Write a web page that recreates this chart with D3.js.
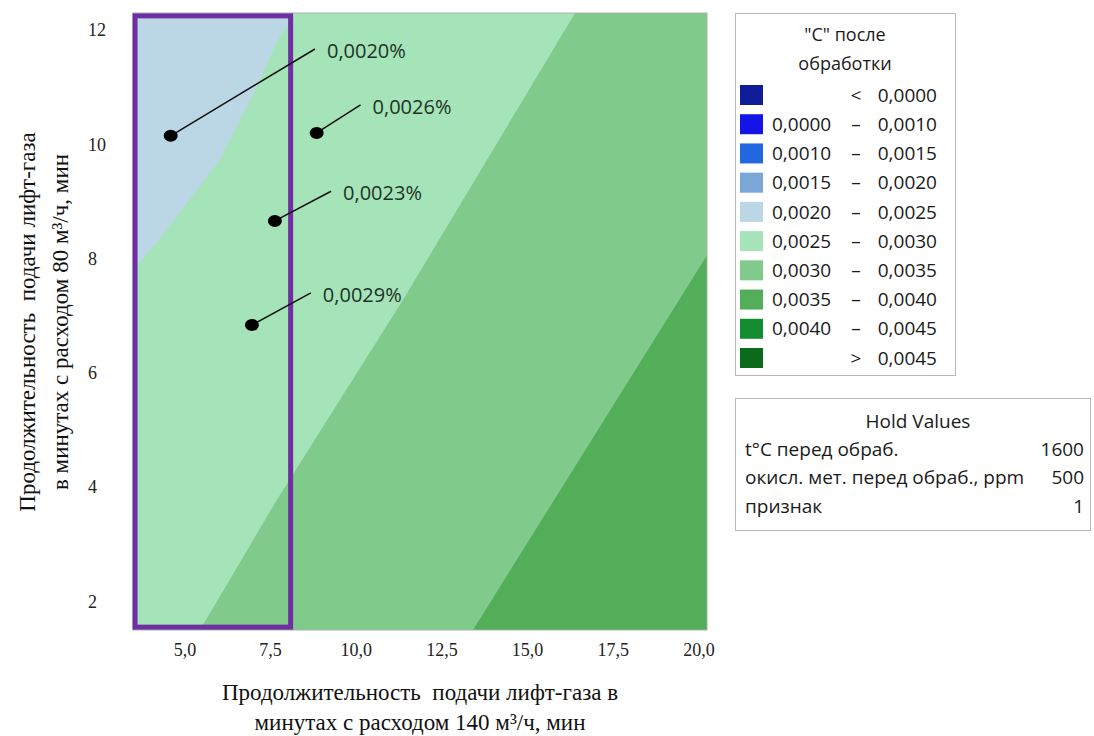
<!DOCTYPE html>
<html>
<head>
<meta charset="utf-8">
<script src="https://cdn.jsdelivr.net/npm/d3@7"></script>
<style>
  body { margin: 0; background: #fff; }
  .tick text { font-family: "Liberation Serif", serif; font-size: 18px; fill: #222; }
</style>
</head>
<body>
<div id="chart"></div>
<script>
// axis ranges and ticks
const xDomain = [3.5, 20.25];
const yDomain = [1.5, 12.3];
const xTicks = [5, 7.5, 10, 12.5, 15, 17.5, 20];
const yTicks = [2, 4, 6, 8, 10, 12];

// contour boundaries (data units)
const level0025X = [3.5, 4.35, 5.3, 6.0, 6.91, 7.73, 8.25];
const level0025Y = [7.80, 8.40, 9.15, 9.70, 10.75, 11.83, 12.3];
const level0030X = [5.455, 7.70, 11.38, 16.40];
const level0030Y = [1.5, 3.78, 7.28, 12.3];
const level0035X = [13.42, 20.25];
const level0035Y = [1.5, 8.06];

// band colours
const bandColors = ["#bbd7e5", "#a5e3b9", "#80cb8b", "#52ae58"];

// legend
const legendLeft = ["", "0,0000", "0,0010", "0,0015", "0,0020", "0,0025", "0,0030", "0,0035", "0,0040", ""];
const legendSep = ["<", "–", "–", "–", "–", "–", "–", "–", "–", ">"];
const legendRight = ["0,0000", "0,0010", "0,0015", "0,0020", "0,0025", "0,0030", "0,0035", "0,0040", "0,0045", "0,0045"];
const legendColors = ["#0f1c98", "#1414e6", "#2266e0", "#7ba6d8", "#bbd7e5", "#a5e3b9", "#80cb8b", "#52ae58", "#148c30", "#0b6a1c"];

// hold values
const holdNames = ["t°C перед обраб.", "окисл. мет. перед обраб., ppm", "признак"];
const holdValues = ["1600", "500", "1"];

// annotated points
const pointX = [4.60, 8.86, 7.64, 6.97];
const pointY = [10.15, 10.20, 8.66, 6.84];
const leaderX = [8.81, 10.14, 9.28, 8.69];
const leaderY = [11.67, 10.69, 9.18, 7.40];
const pointLabels = ["0,0020%", "0,0026%", "0,0023%", "0,0029%"];

// selected region
const boxX = [3.56, 8.10];
const boxY = [1.55, 12.25];

const width = 1094, height = 736;
const plot = { left: 133, right: 707, top: 13, bottom: 630 };

const svg = d3.select("#chart").append("svg")
    .attr("width", width)
    .attr("height", height);

const x = d3.scaleLinear().domain(xDomain).range([plot.left, plot.right]);
const y = d3.scaleLinear().domain(yDomain).range([plot.bottom, plot.top]);

const line = d3.line()
    .x(d => x(d[0]))
    .y(d => y(d[1]));

function pts(xs, ys) {
    return xs.map((v, i) => [v, ys[i]]);
}

// contour bands
svg.append("rect")
    .attr("x", x(xDomain[0])).attr("y", y(yDomain[1]))
    .attr("width", x(xDomain[1]) - x(xDomain[0]))
    .attr("height", y(yDomain[0]) - y(yDomain[1]))
    .attr("fill", bandColors[0]);

const bands = [
    pts(level0025X, level0025Y).concat([[xDomain[1], yDomain[1]], [xDomain[1], yDomain[0]], [xDomain[0], yDomain[0]]]),
    pts(level0030X, level0030Y).concat([[xDomain[1], yDomain[1]], [xDomain[1], yDomain[0]]]),
    pts(level0035X, level0035Y).concat([[xDomain[1], yDomain[0]]])
];

svg.append("g")
    .selectAll("path")
    .data(bands)
    .join("path")
    .attr("d", d => line(d) + "Z")
    .attr("fill", (d, i) => bandColors[i + 1]);

// thin frame
svg.append("rect")
    .attr("x", plot.left).attr("y", plot.top)
    .attr("width", plot.right - plot.left)
    .attr("height", plot.bottom - plot.top)
    .attr("fill", "none")
    .attr("stroke", "#a9b3ab")
    .attr("stroke-width", 1);

// axes
const fmtX = d => d3.format(".1f")(d).replace(".", ",");
const xAxis = d3.axisBottom(x).tickValues(xTicks).tickSize(0).tickPadding(13).tickFormat(fmtX);
const yAxis = d3.axisLeft(y).tickValues(yTicks).tickSize(0).tickFormat(d3.format("d"));

svg.append("g")
    .attr("transform", "translate(0," + plot.bottom + ")")
    .call(xAxis)
    .call(g => g.select(".domain").remove());

svg.append("g")
    .attr("transform", "translate(" + plot.left + ",0)")
    .call(yAxis)
    .call(g => g.select(".domain").remove())
    .call(g => g.selectAll("text").attr("text-anchor", "start").attr("x", 88 - plot.left));

// purple selection box
svg.append("rect")
    .attr("x", x(boxX[0])).attr("y", y(boxY[1]))
    .attr("width", x(boxX[1]) - x(boxX[0]))
    .attr("height", y(boxY[0]) - y(boxY[1]))
    .attr("fill", "none")
    .attr("stroke", "#6f2fa0")
    .attr("stroke-width", 5);

// annotations
const notes = svg.append("g");
pointX.forEach((px, i) => {
    notes.append("line")
        .attr("x1", x(px)).attr("y1", y(pointY[i]))
        .attr("x2", x(leaderX[i])).attr("y2", y(leaderY[i]))
        .attr("stroke", "#111").attr("stroke-width", 1.5);
    notes.append("ellipse")
        .attr("cx", x(px)).attr("cy", y(pointY[i]))
        .attr("rx", 7).attr("ry", 6)
        .attr("fill", "#000");
    notes.append("text")
        .attr("x", x(leaderX[i]) + 12).attr("y", y(leaderY[i]) + 2)
        .attr("dy", "0.35em")
        .style("font-family", "'Open Sans', sans-serif")
        .style("font-size", "20px")
        .attr("fill", "#1d3326")
        .text(pointLabels[i]);
});

// axis titles
const serif = "'Liberation Serif', serif";
const xTitle = svg.append("text")
    .attr("text-anchor", "middle")
    .style("white-space", "pre")
    .style("font-family", serif).style("font-size", "23px").attr("fill", "#111");
xTitle.append("tspan").attr("x", 420).attr("y", 700).text("Продолжительность  подачи лифт-газа в");
xTitle.append("tspan").attr("x", 420).attr("y", 730).text("минутах с расходом 140 м³/ч, мин");

const yTitle = svg.append("text")
    .attr("text-anchor", "middle")
    .style("white-space", "pre")
    .attr("transform", "translate(0,322) rotate(-90)")
    .style("font-family", serif).style("font-size", "23px").attr("fill", "#111");
yTitle.append("tspan").attr("x", 0).attr("y", 35).text("Продолжительность  подачи лифт-газа");
yTitle.append("tspan").attr("x", 0).attr("y", 68).text("в минутах с расходом 80 м³/ч, мин");

// legend
const sans = "'Open Sans', sans-serif";
const legend = svg.append("g");
legend.append("rect")
    .attr("x", 735.5).attr("y", 13.5).attr("width", 220).attr("height", 362)
    .attr("fill", "#fff").attr("stroke", "#b8b8b8");
legend.append("text")
    .attr("x", 845).attr("y", 35).attr("dy", "0.35em").attr("text-anchor", "middle")
    .style("font-family", sans).style("font-size", "18px").attr("fill", "#1a1a1a")
    .text("\"C\" после");
legend.append("text")
    .attr("x", 845).attr("y", 64).attr("dy", "0.35em").attr("text-anchor", "middle")
    .style("font-family", sans).style("font-size", "18px").attr("fill", "#1a1a1a")
    .text("обработки");

const rowY = d3.scaleLinear().domain([0, 9]).range([95, 358]);
legendColors.forEach((c, i) => {
    const yy = rowY(i);
    legend.append("rect")
        .attr("x", 740).attr("y", yy - 10).attr("width", 23).attr("height", 20)
        .attr("fill", c);
    const t = legend.append("g")
        .style("font-family", sans).style("font-size", "19px").attr("fill", "#1a1a1a");
    t.append("text").attr("x", 772).attr("y", yy).attr("dy", "0.35em").text(legendLeft[i]);
    t.append("text").attr("x", 856).attr("y", yy).attr("dy", "0.35em").attr("text-anchor", "middle").text(legendSep[i]);
    t.append("text").attr("x", 937).attr("y", yy).attr("dy", "0.35em").attr("text-anchor", "end").text(legendRight[i]);
});

// hold values box
const hold = svg.append("g").style("font-family", sans).style("font-size", "19px").attr("fill", "#1a1a1a");
hold.append("rect")
    .attr("x", 735.5).attr("y", 398.5).attr("width", 355).attr("height", 132)
    .attr("fill", "#fff").attr("stroke", "#b8b8b8");
hold.append("text").attr("x", 918).attr("y", 421).attr("dy", "0.35em").attr("text-anchor", "middle").text("Hold Values");
holdNames.forEach((n, i) => {
    const yy = 449 + i * 28.5;
    hold.append("text").attr("x", 745).attr("y", yy).attr("dy", "0.35em").text(n);
    hold.append("text").attr("x", 1084).attr("y", yy).attr("dy", "0.35em").attr("text-anchor", "end").text(holdValues[i]);
});
</script>
</body>
</html>
